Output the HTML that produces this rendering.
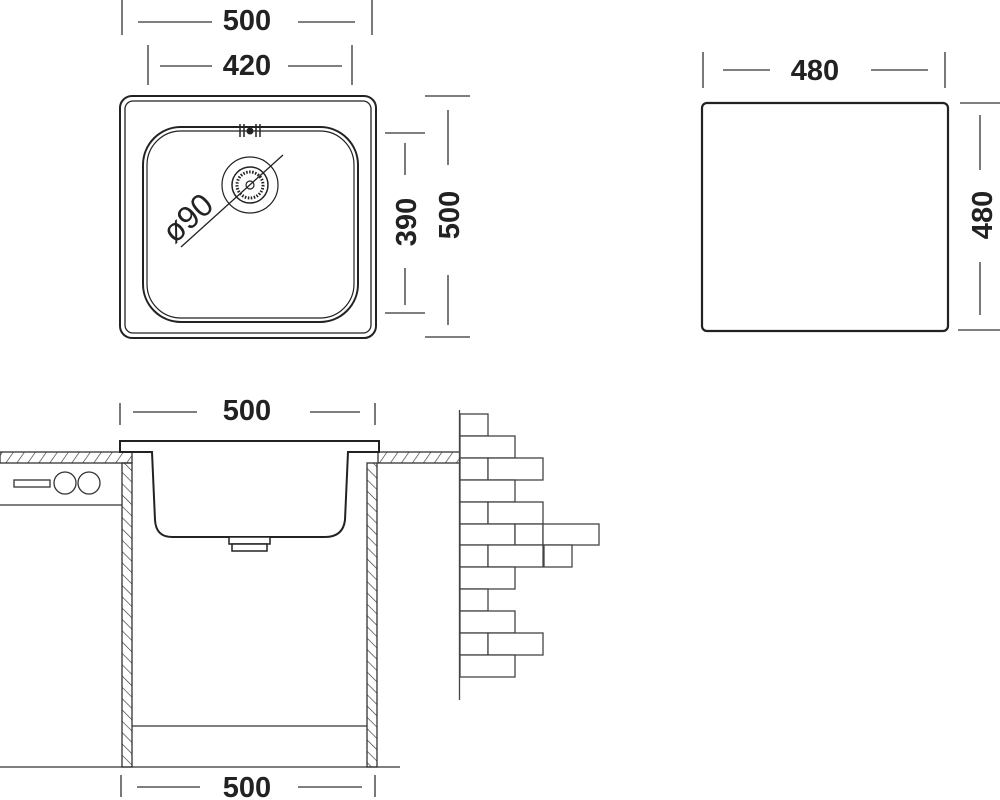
<!DOCTYPE html>
<html><head><meta charset="utf-8"><style>
html,body{margin:0;padding:0;background:#fff;}
svg{display:block;}
text{font-family:"Liberation Sans",sans-serif;font-weight:bold;fill:#222;}
</style></head><body>
<svg width="1000" height="800" viewBox="0 0 1000 800" xmlns="http://www.w3.org/2000/svg">
<defs>
<pattern id="h1" patternUnits="userSpaceOnUse" width="9" height="9" patternTransform="rotate(35)">
<line x1="0" y1="0" x2="0" y2="9" stroke="#333" stroke-width="1.3"/></pattern>
<pattern id="h2" patternUnits="userSpaceOnUse" width="8" height="8" patternTransform="rotate(-45)">
<line x1="0" y1="0" x2="0" y2="8" stroke="#333" stroke-width="1.3"/></pattern>
</defs>
<g stroke="#333" stroke-width="1.3" fill="none">
<line x1="122" y1="0" x2="122" y2="35"/><line x1="372" y1="0" x2="372" y2="35"/>
<line x1="138" y1="22" x2="212" y2="22"/><line x1="298" y1="22" x2="355" y2="22"/>
<line x1="148" y1="45" x2="148" y2="85"/><line x1="352" y1="45" x2="352" y2="85"/>
<line x1="160" y1="66" x2="212" y2="66"/><line x1="288" y1="66" x2="342" y2="66"/>
<line x1="385" y1="133" x2="425" y2="133"/><line x1="385" y1="313" x2="425" y2="313"/>
<line x1="405" y1="143" x2="405" y2="175"/><line x1="405" y1="268" x2="405" y2="305"/>
<line x1="425" y1="96" x2="470" y2="96"/><line x1="425" y1="337" x2="470" y2="337"/>
<line x1="448" y1="110" x2="448" y2="165"/><line x1="448" y1="275" x2="448" y2="325"/>
<line x1="703" y1="52" x2="703" y2="88"/><line x1="945" y1="52" x2="945" y2="88"/>
<line x1="723" y1="70" x2="770" y2="70"/><line x1="871" y1="70" x2="928" y2="70"/>
<line x1="960" y1="103" x2="1000" y2="103"/><line x1="958" y1="330" x2="1000" y2="330"/>
<line x1="980" y1="115" x2="980" y2="170"/><line x1="980" y1="262" x2="980" y2="315"/>
<line x1="120" y1="403" x2="120" y2="425"/><line x1="375" y1="403" x2="375" y2="425"/>
<line x1="133" y1="412" x2="197" y2="412"/><line x1="310" y1="412" x2="360" y2="412"/>
<line x1="121" y1="775" x2="121" y2="797"/><line x1="375" y1="775" x2="375" y2="797"/>
<line x1="137" y1="787" x2="200" y2="787"/><line x1="298" y1="787" x2="362" y2="787"/>
<line x1="251" y1="445" x2="251" y2="470"/><line x1="251" y1="505" x2="251" y2="530"/>
</g>
<g stroke="#222" fill="none">
<rect x="120" y="96" width="256" height="242" rx="12" stroke-width="2"/>
<rect x="125" y="101" width="246" height="232" rx="8" stroke-width="1.3"/>
<rect x="143" y="127" width="215" height="195" rx="38" stroke-width="2"/>
<rect x="147" y="131" width="207" height="187" rx="34" stroke-width="1.2"/>
<circle cx="250" cy="185" r="28" stroke-width="1.2"/>
<circle cx="250" cy="185" r="18" stroke-width="1.5"/>
<circle cx="250" cy="185" r="13" stroke-width="3" stroke-dasharray="1.5 1.5"/>
<circle cx="250" cy="185" r="4" stroke-width="1.2"/>
<line x1="181" y1="247" x2="283" y2="155" stroke-width="1.3"/>
<line x1="240" y1="124" x2="240" y2="137" stroke-width="1.5"/><line x1="244" y1="124" x2="244" y2="137" stroke-width="1.5"/>
<line x1="256" y1="124" x2="256" y2="137" stroke-width="1.5"/><line x1="260" y1="124" x2="260" y2="137" stroke-width="1.5"/>
<circle cx="250" cy="131" r="3" fill="#222"/>
<rect x="702" y="103" width="246" height="228" rx="5" stroke-width="2.2"/>
</g>
<text x="247" y="30" font-size="29" text-anchor="middle">500</text>
<text x="247" y="75" font-size="29" text-anchor="middle">420</text>
<text x="815" y="80" font-size="29" text-anchor="middle">480</text>
<text transform="translate(416,222) rotate(-90)" font-size="29" text-anchor="middle">390</text>
<text transform="translate(459,215) rotate(-90)" font-size="29" text-anchor="middle">500</text>
<text transform="translate(992,215) rotate(-90)" font-size="29" text-anchor="middle">480</text>
<text transform="translate(195,226) rotate(-42)" font-size="32" style="font-weight:normal" text-anchor="middle">ø90</text>
<text x="247" y="420" font-size="29" text-anchor="middle">500</text>
<text x="251" y="500" font-size="29" text-anchor="middle">175</text>
<text x="247" y="797" font-size="29" text-anchor="middle">500</text>
<g stroke="#333" stroke-width="1.3">
<rect x="0" y="452" width="132" height="11" fill="url(#h1)"/>
<rect x="378" y="452" width="82" height="11" fill="url(#h1)"/>
<rect x="122" y="463" width="10" height="304" fill="url(#h2)"/>
<rect x="367" y="463" width="10" height="304" fill="url(#h2)"/>
<line x1="0" y1="505" x2="122" y2="505"/>
<line x1="132" y1="726" x2="367" y2="726"/>
<line x1="0" y1="767" x2="400" y2="767"/>
<rect x="14" y="480" width="36" height="7" fill="none"/>
<circle cx="65" cy="483" r="11" fill="none"/><circle cx="89" cy="483" r="11" fill="none"/>
</g>
<path d="M120 452 V441 H379 V452 H348 L345 520 Q343 537 325 537 H172 Q156 537 155 520 L152 452 Z" fill="#fff" stroke="#222" stroke-width="2"/>
<rect x="229" y="537" width="41" height="7" fill="#fff" stroke="#222" stroke-width="1.5"/>
<rect x="232" y="544" width="35" height="7" fill="#fff" stroke="#222" stroke-width="1.5"/>
<g stroke="#444" stroke-width="1.3" fill="#fff">
<line x1="459.5" y1="410" x2="459.5" y2="700"/>
<rect x="460" y="414" width="28" height="22"/>
<rect x="460" y="436" width="55" height="22"/>
<rect x="460" y="458" width="28" height="22"/><rect x="488" y="458" width="55" height="22"/>
<rect x="460" y="480" width="55" height="22"/>
<rect x="460" y="502" width="28" height="22"/><rect x="488" y="502" width="55" height="22"/>
<rect x="460" y="524" width="55" height="21"/><rect x="515" y="524" width="28" height="21"/><rect x="543" y="524" width="56" height="21"/>
<rect x="460" y="545" width="28" height="22"/><rect x="488" y="545" width="55" height="22"/><rect x="544" y="545" width="28" height="22"/>
<rect x="460" y="567" width="55" height="22"/>
<rect x="460" y="589" width="28" height="22"/>
<rect x="460" y="611" width="55" height="22"/>
<rect x="460" y="633" width="28" height="22"/><rect x="488" y="633" width="55" height="22"/>
<rect x="460" y="655" width="55" height="22"/>
</g>
</svg>
</body></html>
